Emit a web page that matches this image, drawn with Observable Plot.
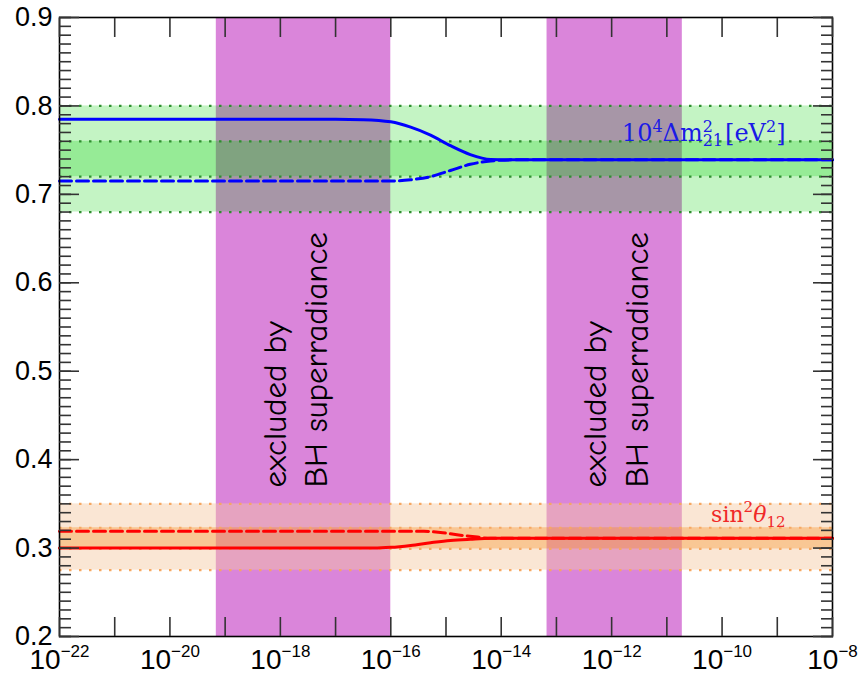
<!DOCTYPE html>
<html><head><meta charset="utf-8">
<script src="https://cdn.jsdelivr.net/npm/d3@7"></script>
<script src="https://cdn.jsdelivr.net/npm/@observablehq/plot@0.6"></script>
<style>html,body{margin:0;padding:0;background:#fff;} #chart svg{display:block}</style>
</head><body><div id="chart"></div>
<script>
// ---- axes ----
const xDomainExp = [-22, -8];
const yDomain = [0.2, 0.9];
const xTickExps = [-22,-21,-20,-19,-18,-17,-16,-15,-14,-13,-12,-11,-10,-9,-8];
const xLabelExps = [-22,-20,-18,-16,-14,-12,-10,-8];
const yMajorTicks = [0.2,0.3,0.4,0.5,0.6,0.7,0.8,0.9];
const yMinorTicks = d3.range(20, 91).map(i => i / 100);

// ---- excluded regions (log10 of mass) ----
const bhLoExp = [-19.16, -13.17];
const bhHiExp = [-16.0, -10.72];
const bhTextExp = [-17.77, -11.97];
const bhTextY = [0.3686, 0.3686];
const bhText = "excluded by\nBH superradiance";

// ---- 1/3 sigma bands ----
const dm21Outer = [0.68, 0.80];
const dm21Inner = [0.72, 0.76];
const s12Outer = [0.275, 0.35];
const s12Inner = [0.299, 0.323];

// ---- curves ----
const blueSolidExp = [-22, -17, -16.5, -16.0, -15.64, -15.28, -14.92, -14.56, -14.19, -13.8, -8];
const blueSolidVal = [0.785, 0.785, 0.7845, 0.782, 0.776, 0.767, 0.755, 0.745, 0.7395, 0.739, 0.739];
const blueDashExp = [-22, -16.0, -15.64, -15.28, -14.92, -14.56, -14.19, -13.8, -8];
const blueDashVal = [0.715, 0.715, 0.7165, 0.720, 0.727, 0.734, 0.7377, 0.739, 0.739];
const redSolidExp = [-22, -16.3, -16.0, -15.64, -15.28, -14.92, -14.56, -14.19, -8];
const redSolidVal = [0.300, 0.300, 0.3008, 0.303, 0.306, 0.3086, 0.310, 0.311, 0.311];
const redDashExp = [-22, -15.4, -15.1, -14.74, -14.43, -14.19, -8];
const redDashVal = [0.319, 0.319, 0.3176, 0.3146, 0.3124, 0.311, 0.311];

// ---- annotations ----
const annotKeys = ["DM21", "S12"];
const annotY = [0.76, 0.3293];
const annotColor = ["#1a1ae6", "#f02828"];

const table = (exps, vals) => exps.map((e, i) => ({x: 10 ** e, y: vals[i]}));
const bhBands = bhLoExp.map((lo, i) => ({lo: 10 ** lo, hi: 10 ** bhHiExp[i], tx: 10 ** bhTextExp[i], ty: bhTextY[i]}));
const annots = annotKeys.map((k, i) => ({k, y: annotY[i], c: annotColor[i]}));

const tickStyle = {fill: "none", label: null, stroke: "#333", strokeWidth: 1.6};

const plot = Plot.plot({
  width: 858, height: 675,
  marginLeft: 59, marginRight: 26, marginTop: 17, marginBottom: 39,
  style: {background: "white", overflow: "visible", fontFamily: "'Liberation Sans', Arial, sans-serif"},
  x: {type: "log", domain: [10 ** xDomainExp[0], 10 ** xDomainExp[1]]},
  y: {domain: yDomain},
  marks: [
    Plot.rect(bhBands, {x1: "lo", x2: "hi", fill: "#da85da"}),
    Plot.rect([dm21Outer], {y1: d => d[0], y2: d => d[1], fill: "rgb(0,207,0)", fillOpacity: 0.23}),
    Plot.rect([dm21Inner], {y1: d => d[0], y2: d => d[1], fill: "rgb(0,207,0)", fillOpacity: 0.23}),
    Plot.rect([s12Outer], {y1: d => d[0], y2: d => d[1], fill: "rgb(244,200,160)", fillOpacity: 0.45}),
    Plot.rect([s12Inner], {y1: d => d[0], y2: d => d[1], fill: "rgb(250,130,0)", fillOpacity: 0.3}),
    Plot.ruleY([...dm21Outer, ...dm21Inner], {stroke: "#2f8f2f", strokeWidth: 2.2, strokeDasharray: "2.5,7.5"}),
    Plot.ruleY([...s12Outer, ...s12Inner], {stroke: "#f7a860", strokeWidth: 2.2, strokeDasharray: "2.5,7.5"}),
    Plot.text(bhBands, {x: "tx", y: "ty", text: () => bhText, rotate: -90, textAnchor: "start",
      lineAnchor: "middle", lineHeight: 1.27, fontSize: 33, fill: "black",
      fontFamily: "'Comic Sans MS', 'Comic Neue', 'Liberation Sans', sans-serif"}),
    Plot.line(table(blueSolidExp, blueSolidVal), {x: "x", y: "y", stroke: "#0000ff", strokeWidth: 3, curve: "monotone-x"}),
    Plot.line(table(blueDashExp, blueDashVal), {x: "x", y: "y", stroke: "#0000ff", strokeWidth: 3, strokeDasharray: "12,5", curve: "monotone-x"}),
    Plot.line(table(redSolidExp, redSolidVal), {x: "x", y: "y", stroke: "#ff0000", strokeWidth: 3, curve: "monotone-x"}),
    Plot.line(table(redDashExp, redDashVal), {x: "x", y: "y", stroke: "#ff0000", strokeWidth: 3, strokeDasharray: "12,5", curve: "monotone-x"}),
    Plot.frame({stroke: "black", strokeWidth: 1.6}),
    // inward ticks
    Plot.axisX({ticks: xTickExps.map(e => 10 ** e), tickSize: -19, anchor: "bottom", ...tickStyle}),
    Plot.axisX({ticks: xTickExps.map(e => 10 ** e), tickSize: -19, anchor: "top", ...tickStyle}),
    Plot.axisY({ticks: yMinorTicks, tickSize: -12, anchor: "left", ...tickStyle}),
    Plot.axisY({ticks: yMajorTicks, tickSize: -20, anchor: "left", ...tickStyle}),
    Plot.axisY({ticks: yMinorTicks, tickSize: -12, anchor: "right", ...tickStyle}),
    Plot.axisY({ticks: yMajorTicks, tickSize: -20, anchor: "right", ...tickStyle}),
    // tick labels
    Plot.axisX({ticks: xLabelExps.map(e => 10 ** e), tickSize: 0, tickPadding: 13, fontSize: 28, label: null,
      tickFormat: d => "10^" + Math.round(Math.log10(d))}),
    Plot.axisY({ticks: yMajorTicks, tickSize: 0, tickPadding: 7, fontSize: 27, label: null, tickFormat: d3.format(".1f")}),
    // annotations
    Plot.text(annots, {x: () => 10 ** xDomainExp[1], y: "y", text: "k", fill: "c", dx: -47, textAnchor: "end",
      lineAnchor: "bottom", fontSize: 22, fontFamily: "'DejaVu Serif', 'Liberation Serif', serif"})
  ]
});

function rich(el, segs, size) {
  el.textContent = "";
  if (size) el.setAttribute("font-size", size);
  let shift = 0;
  for (const s of segs) {
    const t = document.createElementNS("http://www.w3.org/2000/svg", "tspan");
    t.textContent = s.t;
    const target = s.b || 0;
    if (target !== shift) { t.setAttribute("dy", target - shift); shift = target; }
    if (s.dx) t.setAttribute("dx", s.dx);
    if (s.fs) t.setAttribute("font-size", s.fs);
    if (s.it) t.setAttribute("font-style", "italic");
    el.appendChild(t);
  }
}

plot.querySelectorAll('g[aria-label="x-axis tick label"] text').forEach(el => {
  const [b, e] = el.textContent.split("^");
  rich(el, [{t: b}, {t: e.replace("-", "\u2212"), b: -12, fs: 17}]);
});
plot.querySelectorAll("text").forEach(el => {
  if (el.textContent === "DM21") {
    el.removeAttribute("y");
    rich(el, [{t: "10"}, {t: "4", b: -9, fs: 16}, {t: "\u0394m"}, {t: "2", b: -9, fs: 16},
      {t: "21", b: 5, fs: 16, dx: -10.2}, {t: "[eV", dx: 2}, {t: "2", b: -9, fs: 16}, {t: "]"}], 24);
  } else if (el.textContent === "S12") {
    el.removeAttribute("y");
    rich(el, [{t: "sin"}, {t: "2", b: -10, fs: 15}, {t: "\u03b8", it: true}, {t: "12", b: 5, fs: 15}]);
  }
});

document.getElementById("chart").appendChild(plot);
</script>
</body></html>
